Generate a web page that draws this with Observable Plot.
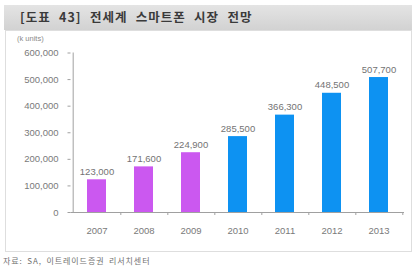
<!DOCTYPE html>
<html>
<head>
<meta charset="utf-8">
<script src="https://cdn.jsdelivr.net/npm/d3@7"></script>
<script src="https://cdn.jsdelivr.net/npm/@observablehq/plot@0.6"></script>
<style>
  html, body { margin: 0; padding: 0; background: #fff; }
  #page { position: relative; width: 419px; height: 271px; overflow: hidden;
          font-family: "Liberation Sans", "Noto Sans CJK KR", sans-serif; }
  #header { position: absolute; left: 4px; top: 5px; width: 408px; height: 25px;
            background: linear-gradient(#e4e4e4, #d2d2d2); }
  #title { position: absolute; left: 16px; top: 4px; font-family: "Noto Sans CJK KR", sans-serif;
           font-weight: 700; font-size: 12.5px; letter-spacing: 1px; word-spacing: 4.5px; color: #3a3a3a; line-height: 16px; }
  #box { position: absolute; left: 5px; top: 30px; width: 405px; height: 220px;
         border: 1px solid #dedede; background: #fff; }
  #unit { position: absolute; left: 17px; top: 34px; font-size: 7.5px; color: #8a8a8a; }
  #chart { position: absolute; left: 5px; top: 30px; }
  #caption { position: absolute; left: 3px; top: 255px; font-family: "Noto Sans CJK KR", sans-serif;
             font-size: 8px; letter-spacing: 0.9px; word-spacing: 2px; color: #707070; line-height: 12px; }
</style>
</head>
<body>
<div id="page">
  <div id="header"><div id="title">[도표 43] 전세계 스마트폰 시장 전망</div></div>
  <div id="box"></div>
  <div id="unit">(k units)</div>
  <div id="chart"></div>
  <div id="caption">자료: SA, 이트레이드증권 리서치센터</div>
</div>
<script>
// Worldwide smartphone shipments (k units): actuals 2007–2009, forecasts 2010–2013
const years = ["2007", "2008", "2009", "2010", "2011", "2012", "2013"];
const shipments = [123000, 171600, 224900, 285500, 366300, 448500, 507700];
const kinds = ["actual", "actual", "actual", "forecast", "forecast", "forecast", "forecast"];
const yTicks = [0, 100000, 200000, 300000, 400000, 500000, 600000];

const data = years.map((year, i) => ({year, units: shipments[i], kind: kinds[i]}));

const width = 407, height = 222;
const marginLeft = 65.5, marginRight = 8, marginTop = 22.5, marginBottom = 40;
const step = (width - marginLeft - marginRight) / years.length;
const fmt = d3.format(",");

const chart = Plot.plot({
  width, height, marginLeft, marginRight, marginTop, marginBottom,
  style: {fontFamily: "Liberation Sans, sans-serif", fontSize: "9.5px", color: "#7a7a7a", background: "transparent"},
  x: {domain: years, paddingInner: 0.6, paddingOuter: 0.3, label: null},
  y: {domain: [0, 600000], label: null},
  color: {domain: ["actual", "forecast"], range: ["#cb58f0", "#0d92f2"]},
  marks: [
    Plot.axisY(yTicks, {tickSize: 3, tickPadding: 9.5, tickFormat: fmt, stroke: "#a0a0a0", fill: "#7a7a7a"}),
    Plot.axisX({tickSize: 0, tickPadding: 15, fill: "#7a7a7a"}),
    Plot.barY(data, {x: "year", y: "units", fill: "kind"}),
    Plot.text(data, {x: "year", y: "units", text: d => fmt(d.units), lineAnchor: "bottom", dy: -5, fill: "#737373"}),
    // vertical axis line at the left edge of the first band
    Plot.ruleX([years[0]], {dx: -step / 2, y1: 0, y2: 600000, stroke: "#a0a0a0"}),
    // baseline and small ticks at the band boundaries
    Plot.ruleY([0], {stroke: "#a0a0a0"}),
    Plot.ruleX(years, {x: d => d, dx: step / 2, y1: 0, y2: 0, insetBottom: -3, stroke: "#a0a0a0"})
  ]
});
document.getElementById("chart").append(chart);
</script>
</body>
</html>
